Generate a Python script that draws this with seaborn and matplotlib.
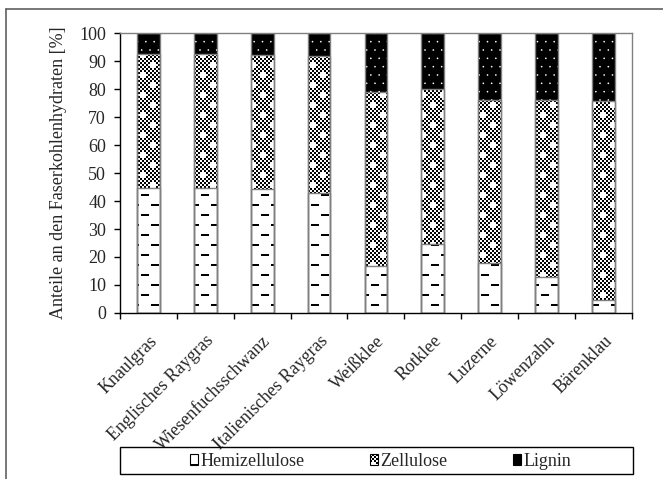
import matplotlib
matplotlib.use("Agg")
import matplotlib.pyplot as plt
import matplotlib.hatch as mhatch
import seaborn as sns
import numpy as np
import pandas as pd
from matplotlib.path import Path
from matplotlib.patches import Patch, Rectangle
from matplotlib.lines import Line2D

# values (percent of fibre carbohydrates)
plants = ["Knaulgras", "Englisches Raygras", "Wiesenfuchsschwanz", "Italienisches Raygras",
          "Weißklee", "Rotklee", "Luzerne", "Löwenzahn", "Bärenklau"]
hemizellulose = [44.7, 44.5, 44.2, 42.7, 16.7, 24.6, 17.7, 12.7, 4.8]
zellulose = [47.8, 48.0, 48.0, 49.2, 62.2, 55.4, 58.5, 63.5, 71.1]
lignin = [7.5, 7.5, 7.8, 8.1, 21.1, 20.0, 23.8, 23.8, 24.1]
y_ticks = list(range(0, 101, 10))


# --- Excel-like fill patterns as hatch classes (filled rectangles in a 1x1 tile) ---
def _fill_rects(rects, vertices, codes):
    for k, (x, y, w, h) in enumerate(rects):
        vertices[5 * k:5 * k + 5] = [(x, y), (x + w, y), (x + w, y + h), (x, y + h), (x, y)]
        codes[5 * k:5 * k + 5] = [Path.MOVETO, Path.LINETO, Path.LINETO, Path.LINETO, Path.CLOSEPOLY]


class DashHatch(mhatch.HatchPatternBase):
    """Staggered short dashes, used for the '|' hatch character."""
    def __init__(self, hatch, density):
        self.rects = []
        if '|' in hatch:
            for i in range(10):
                off = 0.01 if i % 2 == 0 else 0.11
                for j in range(5):
                    self.rects.append((off + j * 0.2, i * 0.1 + 0.04, 0.08, 0.02))
        self.num_vertices = 5 * len(self.rects)

    def set_vertices_and_codes(self, vertices, codes):
        _fill_rects(self.rects, vertices, codes)


class CheckerHatch(mhatch.HatchPatternBase):
    """Fine checkerboard with small white crosses, used for the 'O' hatch character."""
    def __init__(self, hatch, density):
        self.rects = []
        if 'O' in hatch:
            n = 50
            holes = set()
            for a in range(n // 5):
                i = 5 * a + 2
                off = 1 if a % 2 == 0 else 6
                for b in range(n // 10):
                    j = 10 * b + off
                    holes.update({((i + 1) % n, j), ((i - 1) % n, j), (i, (j + 1) % n), (i, (j - 1) % n)})
            for i in range(n):
                for j in range(n):
                    if (i + j) % 2 == 0 and (i, j) not in holes:
                        self.rects.append((j / n, i / n, 1 / n, 1 / n))
        self.num_vertices = 5 * len(self.rects)

    def set_vertices_and_codes(self, vertices, codes):
        _fill_rects(self.rects, vertices, codes)


mhatch._hatch_types = [mhatch.HorizontalHatch, DashHatch, mhatch.NorthEastHatch,
                       mhatch.SouthEastHatch, mhatch.SmallCircles, CheckerHatch,
                       mhatch.SmallFilledCircles, mhatch.Stars]

sns.set_style("ticks")
plt.rcParams['font.family'] = ['Liberation Serif', 'DejaVu Serif']
plt.rcParams['hatch.linewidth'] = 0.01

df = pd.DataFrame({"plant": plants, "hemi": hemizellulose, "zell": zellulose, "lig": lignin})
df["top_zell"] = df["hemi"] + df["zell"]
df["top_lig"] = df["top_zell"] + df["lig"]

fig = plt.figure(figsize=(6.63, 4.79), dpi=100)
ax = fig.add_axes([0.181, 0.3466, 0.772, 0.5844])

# layered stacking: tallest first, each layer painted over the previous
layers = [("top_lig", "black", "white", ".."),
          ("top_zell", "white", "black", "O"),
          ("hemi", "white", "black", "|")]
for col, face, hatch_col, hatch in layers:
    n_before = len(ax.patches)
    sns.barplot(data=df, x="plant", y=col, color=face, width=0.4, ax=ax,
                linewidth=0, saturation=1, errorbar=None)
    for p in ax.patches[n_before:]:
        p.set_facecolor(face)
        p.set_edgecolor(hatch_col)
        p.set_hatch(hatch)
        p.set_linewidth(0)

# grey outlines of the segments
for col, _, _, _ in layers:
    sns.barplot(data=df, x="plant", y=col, color="#808080", fill=False, width=0.4,
                ax=ax, linewidth=1, errorbar=None)

ax.set_ylim(0, 100)
ax.set_xlim(-0.5, len(plants) - 0.5)
ax.set_yticks(y_ticks)
ax.set_yticklabels([str(t) for t in y_ticks], fontsize=13)
ax.tick_params(axis='y', length=4, width=1, color='black', pad=6)
ax.set_xticks(range(len(plants)))
ax.set_xticklabels(plants, rotation=45, ha='right', rotation_mode='anchor', fontsize=13)
ax.tick_params(axis='x', which='major', length=0, pad=14)
ax.set_xticks(np.arange(-0.5, len(plants), 1.0), minor=True)
ax.tick_params(axis='x', which='minor', length=4, width=1, color='black')
ax.set_xlabel("")
ax.set_ylabel("Anteile an den Faserkohlenhydraten [%]", fontsize=13, labelpad=9)

for side in ['left', 'bottom']:
    ax.spines[side].set_color('black')
    ax.spines[side].set_linewidth(1)
for side in ['top', 'right']:
    ax.spines[side].set_visible(True)
    ax.spines[side].set_color('#808080')
    ax.spines[side].set_linewidth(1)

# legend in a plain box below the plot
handles = [Patch(facecolor='white', edgecolor='black', hatch='|', label='Hemizellulose'),
           Patch(facecolor='white', edgecolor='black', hatch='O', label='Zellulose'),
           Patch(facecolor='black', edgecolor='white', hatch='..', label='Lignin')]
leg = fig.legend(handles=handles, loc='center', bbox_to_anchor=(0.574, 0.0365), ncol=3,
                 frameon=False, fontsize=13, handlelength=0.45, handleheight=0.5,
                 handletextpad=0.15, columnspacing=3.6)
for h in leg.legend_handles:
    h.set_linewidth(0.8)
    h.set_edgecolor('black')
fig.patches.append(Rectangle((120 / 663, 5 / 479), 513 / 663, 27 / 479,
                             transform=fig.transFigure, fill=False,
                             edgecolor='black', linewidth=1))

# outer frame (top and left edges only)
fig.add_artist(Line2D([6 / 663, 6 / 663], [0, 1 - 9 / 479], transform=fig.transFigure,
                      color='#606060', linewidth=1.2))
fig.add_artist(Line2D([6 / 663, 1], [1 - 9 / 479, 1 - 9 / 479], transform=fig.transFigure,
                      color='#606060', linewidth=1.2))

fig.savefig("out.png", dpi=100)
